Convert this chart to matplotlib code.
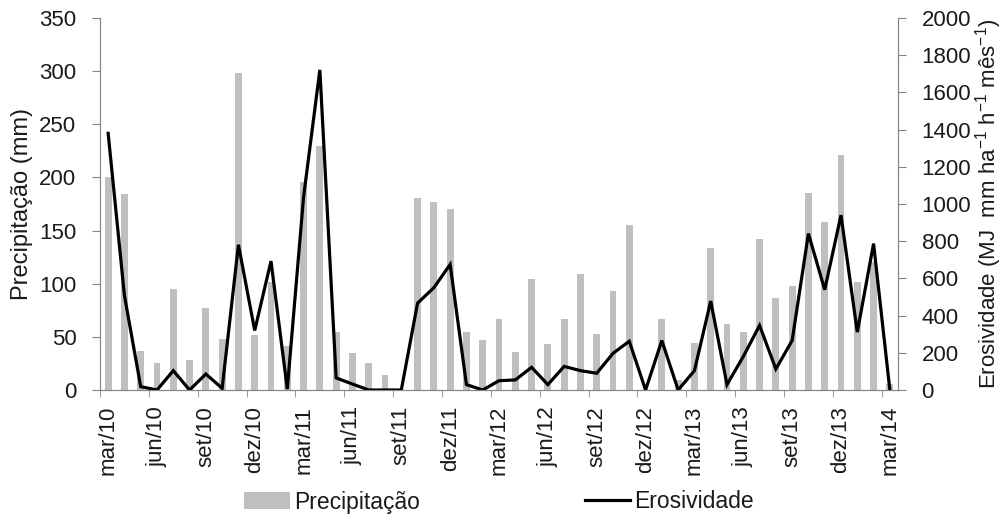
import matplotlib.pyplot as plt
import numpy as np

plt.rcParams['font.family'] = ['Liberation Sans', 'DejaVu Sans']
plt.rcParams['mathtext.fontset'] = 'custom'
plt.rcParams['mathtext.rm'] = 'Liberation Sans'
plt.rcParams['mathtext.it'] = 'Liberation Sans'
plt.rcParams['mathtext.default'] = 'regular'

# dados mensais mar/10 - mar/14
meses = ['mar/10', 'abr/10', 'mai/10', 'jun/10', 'jul/10', 'ago/10', 'set/10', 'out/10', 'nov/10', 'dez/10',
         'jan/11', 'fev/11', 'mar/11', 'abr/11', 'mai/11', 'jun/11', 'jul/11', 'ago/11', 'set/11', 'out/11', 'nov/11', 'dez/11',
         'jan/12', 'fev/12', 'mar/12', 'abr/12', 'mai/12', 'jun/12', 'jul/12', 'ago/12', 'set/12', 'out/12', 'nov/12', 'dez/12',
         'jan/13', 'fev/13', 'mar/13', 'abr/13', 'mai/13', 'jun/13', 'jul/13', 'ago/13', 'set/13', 'out/13', 'nov/13', 'dez/13',
         'jan/14', 'fev/14', 'mar/14']
precipitacao = [200, 184, 37, 25, 95, 28, 77, 48, 298, 52,
                102, 41, 196, 230, 55, 35, 25, 14, 0, 181, 177, 170,
                55, 47, 67, 36, 104, 43, 67, 109, 53, 93, 155, 0,
                67, 9, 44, 134, 62, 55, 142, 87, 98, 185, 158, 221,
                102, 120, 6]
erosividade = [1380, 508, 18, 0, 104, 0, 86, 9, 781, 320,
               693, 5, 1038, 1721, 65, 32, 0, 0, 0, 467, 550, 675,
               29, 0, 50, 54, 122, 29, 127, 104, 90, 197, 262, 0,
               266, 0, 104, 478, 29, 180, 347, 113, 266, 841, 539, 940,
               311, 787, 0]

cinza = '#868686'
texto = '#1a1a1a'
fs = 16
x = np.arange(len(meses))

fig = plt.figure(figsize=(10.05, 5.19), dpi=100)
ax = fig.add_axes([100/1005, 1-390/519, 798/1005, 372/519])
ax2 = ax.twinx()

barras = ax.bar(x, precipitacao, width=0.42, color='#bfbfbf', label='Precipitação', zorder=2)
linha, = ax2.plot(x, erosividade, color='black', lw=2.3, label='Erosividade', solid_joinstyle='miter')

ax.set_xlim(-0.5, len(meses)-0.5)
ax.set_ylim(0, 350)
ax.set_yticks(np.arange(0, 351, 50))
ax2.set_ylim(0, 2000)
ax2.set_yticks(np.arange(0, 2001, 200))

ax.set_xticks(x[::3])
ax.set_xticklabels(meses[::3], rotation=90, fontsize=fs, color=texto)
ax.set_xticks(np.arange(-0.5, len(meses), 3), minor=True)
ax.tick_params(axis='x', which='major', length=0, pad=11.5)
ax.tick_params(axis='x', which='minor', length=5, color=cinza, direction='out')
ax.tick_params(axis='y', length=6, color=cinza, labelsize=fs, labelcolor=texto, pad=11)
ax2.tick_params(axis='y', length=6, color=cinza, labelsize=fs, labelcolor=texto, pad=11)

for a in (ax, ax2):
    a.spines['top'].set_visible(False)
    for s in ('left', 'right', 'bottom'):
        a.spines[s].set_color(cinza)

ax.set_ylabel('Precipitação (mm)', fontsize=17, color=texto)
ax.yaxis.set_label_coords(-67/798, 0.5)
ax2.set_ylabel(r'Erosividade (MJ  mm ha$^{-1}$ h$^{-1}$ mês$^{-1}$)', fontsize=16, color=texto)
ax2.yaxis.set_label_coords(1 + 873/798 - 1, 0.5)

fig.legend(handles=[barras, linha], labels=['Precipitação', 'Erosividade'], loc='center',
           bbox_to_anchor=(499/1005, 1-502/519), ncol=2, frameon=False, fontsize=16.5,
           handlelength=2.0, handletextpad=0.15, columnspacing=7.2, labelcolor=texto)

fig.savefig('out.png', dpi=100)
